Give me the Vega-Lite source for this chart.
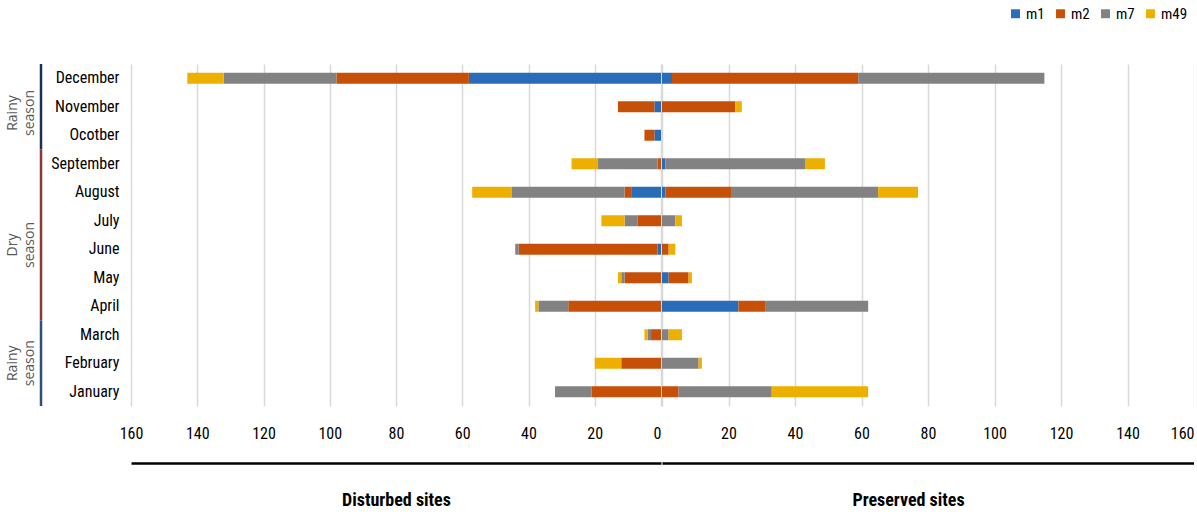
{
  "$schema": "https://vega.github.io/schema/vega-lite/v6.json",
  "padding": {"left": 5, "top": 6, "right": 0, "bottom": 0},
  "background": "white",
  "spacing": 1,
  "config": {
    "view": {"stroke": null},
    "font": "Roboto Condensed, Roboto",
    "axis": {"labelFont": "Roboto Condensed, Roboto", "titleFont": "Roboto Condensed, Roboto", "labelColor": "#000000", "titleColor": "#000000"}
  },
  "resolve": {"scale": {"x": "independent", "y": "independent"}},
  "datasets": {
    "bars": [
      {"month": "December", "site": "Disturbed", "series": "m1", "value": 58},
      {"month": "December", "site": "Disturbed", "series": "m2", "value": 40},
      {"month": "December", "site": "Disturbed", "series": "m7", "value": 34},
      {"month": "December", "site": "Disturbed", "series": "m49", "value": 11},
      {"month": "November", "site": "Disturbed", "series": "m1", "value": 2},
      {"month": "November", "site": "Disturbed", "series": "m2", "value": 11},
      {"month": "Ocotber", "site": "Disturbed", "series": "m1", "value": 2},
      {"month": "Ocotber", "site": "Disturbed", "series": "m2", "value": 3},
      {"month": "September", "site": "Disturbed", "series": "m2", "value": 1},
      {"month": "September", "site": "Disturbed", "series": "m7", "value": 18},
      {"month": "September", "site": "Disturbed", "series": "m49", "value": 8},
      {"month": "August", "site": "Disturbed", "series": "m1", "value": 9},
      {"month": "August", "site": "Disturbed", "series": "m2", "value": 2},
      {"month": "August", "site": "Disturbed", "series": "m7", "value": 34},
      {"month": "August", "site": "Disturbed", "series": "m49", "value": 12},
      {"month": "July", "site": "Disturbed", "series": "m2", "value": 7},
      {"month": "July", "site": "Disturbed", "series": "m7", "value": 4},
      {"month": "July", "site": "Disturbed", "series": "m49", "value": 7},
      {"month": "June", "site": "Disturbed", "series": "m1", "value": 1},
      {"month": "June", "site": "Disturbed", "series": "m2", "value": 42},
      {"month": "June", "site": "Disturbed", "series": "m7", "value": 1},
      {"month": "May", "site": "Disturbed", "series": "m2", "value": 11},
      {"month": "May", "site": "Disturbed", "series": "m7", "value": 1},
      {"month": "May", "site": "Disturbed", "series": "m49", "value": 1},
      {"month": "April", "site": "Disturbed", "series": "m2", "value": 28},
      {"month": "April", "site": "Disturbed", "series": "m7", "value": 9},
      {"month": "April", "site": "Disturbed", "series": "m49", "value": 1},
      {"month": "March", "site": "Disturbed", "series": "m2", "value": 3},
      {"month": "March", "site": "Disturbed", "series": "m7", "value": 1},
      {"month": "March", "site": "Disturbed", "series": "m49", "value": 1},
      {"month": "February", "site": "Disturbed", "series": "m2", "value": 12},
      {"month": "February", "site": "Disturbed", "series": "m49", "value": 8},
      {"month": "January", "site": "Disturbed", "series": "m2", "value": 21},
      {"month": "January", "site": "Disturbed", "series": "m7", "value": 11},
      {"month": "December", "site": "Preserved", "series": "m1", "value": 3},
      {"month": "December", "site": "Preserved", "series": "m2", "value": 56},
      {"month": "December", "site": "Preserved", "series": "m7", "value": 56},
      {"month": "November", "site": "Preserved", "series": "m2", "value": 22},
      {"month": "November", "site": "Preserved", "series": "m49", "value": 2},
      {"month": "September", "site": "Preserved", "series": "m1", "value": 1},
      {"month": "September", "site": "Preserved", "series": "m7", "value": 42},
      {"month": "September", "site": "Preserved", "series": "m49", "value": 6},
      {"month": "August", "site": "Preserved", "series": "m1", "value": 1},
      {"month": "August", "site": "Preserved", "series": "m2", "value": 20},
      {"month": "August", "site": "Preserved", "series": "m7", "value": 44},
      {"month": "August", "site": "Preserved", "series": "m49", "value": 12},
      {"month": "July", "site": "Preserved", "series": "m7", "value": 4},
      {"month": "July", "site": "Preserved", "series": "m49", "value": 2},
      {"month": "June", "site": "Preserved", "series": "m2", "value": 2},
      {"month": "June", "site": "Preserved", "series": "m49", "value": 2},
      {"month": "May", "site": "Preserved", "series": "m1", "value": 2},
      {"month": "May", "site": "Preserved", "series": "m2", "value": 6},
      {"month": "May", "site": "Preserved", "series": "m49", "value": 1},
      {"month": "April", "site": "Preserved", "series": "m1", "value": 23},
      {"month": "April", "site": "Preserved", "series": "m2", "value": 8},
      {"month": "April", "site": "Preserved", "series": "m7", "value": 31},
      {"month": "March", "site": "Preserved", "series": "m7", "value": 2},
      {"month": "March", "site": "Preserved", "series": "m49", "value": 4},
      {"month": "February", "site": "Preserved", "series": "m7", "value": 11},
      {"month": "February", "site": "Preserved", "series": "m49", "value": 1},
      {"month": "January", "site": "Preserved", "series": "m2", "value": 5},
      {"month": "January", "site": "Preserved", "series": "m7", "value": 28},
      {"month": "January", "site": "Preserved", "series": "m49", "value": 29}
    ],
    "seasons": [
      {"segment": "rainy1", "label": ["Rainy", "season"], "from": 0, "to": 3, "mid": 1.72},
      {"segment": "dry", "label": ["Dry", "season"], "from": 3, "to": 9, "mid": 6.35},
      {"segment": "rainy2", "label": ["Rainy", "season"], "from": 9, "to": 12, "mid": 10.5}
    ]
  },
  "hconcat": [
    {
      "width": 33,
      "height": 342,
      "data": {"name": "seasons"},
      "layer": [
        {
          "mark": {"type": "rule", "strokeWidth": 2.5},
          "encoding": {
            "x": {"datum": 1, "type": "quantitative", "scale": {"domain": [0, 1]}, "axis": null},
            "y": {"field": "from", "type": "quantitative", "scale": {"domain": [0, 12], "reverse": true, "nice": false}, "axis": null},
            "y2": {"field": "to"},
            "stroke": {"field": "segment", "type": "nominal", "scale": {"domain": ["rainy1", "dry", "rainy2"], "range": ["#1c2f55", "#8e3535", "#2c4f7c"]}, "legend": null}
          }
        },
        {
          "mark": {"type": "text", "angle": 270, "align": "center", "baseline": "middle", "fontSize": 14, "lineHeight": 17, "font": "Open Sans", "color": "#595959"},
          "encoding": {
            "x": {"datum": 0.15, "type": "quantitative", "scale": {"domain": [0, 1]}, "axis": null},
            "y": {"field": "mid", "type": "quantitative", "scale": {"domain": [0, 12], "reverse": true, "nice": false}, "axis": null},
            "text": {"field": "label"}
          }
        }
      ]
    },
    {
      "width": 530,
      "height": 342,
      "data": {"name": "bars"},
      "transform": [
        {"filter": "datum.site === 'Disturbed'"},
        {"calculate": "indexof(['m1','m2','m7','m49'], datum.series)", "as": "stackOrder"}
      ],
      "mark": {"type": "bar", "size": 11},
      "encoding": {
        "y": {
          "field": "month", "type": "nominal",
          "scale": {"domain": ["December", "November", "Ocotber", "September", "August", "July", "June", "May", "April", "March", "February", "January"]},
          "axis": {"title": null, "domain": false, "ticks": false, "labelFontSize": 16, "labelPadding": 12, "minExtent": 87, "maxExtent": 87}
        },
        "x": {
          "field": "value", "type": "quantitative", "stack": "zero",
          "scale": {"domain": [0, 160], "reverse": true, "nice": false},
          "axis": {"title": "Disturbed sites", "titleFontSize": 18, "titleFontWeight": "bold", "titlePadding": 28,
                   "values": [0, 20, 40, 60, 80, 100, 120, 140, 160], "grid": true, "gridColor": "#d9d9d9", "gridWidth": 1.5,
                   "labelFlush": false,
                   "labelAlign": {"condition": {"test": "datum.value === 0", "value": "right"}, "value": "center"},
                   "ticks": false, "tickSize": 0, "offset": 57, "labelPadding": -38, "labelFontSize": 16,
                   "domainColor": "#000000", "domainWidth": 2.5}
        },
        "color": {
          "field": "series", "type": "nominal", "sort": ["m1", "m2", "m7", "m49"],
          "scale": {"domain": ["m1", "m2", "m7", "m49"], "range": ["#2b6cb8", "#c65008", "#828282", "#edb000"]},
          "legend": {"title": null, "orient": "none", "direction": "horizontal", "legendX": 1000, "legendY": -58,
                     "symbolType": "square", "symbolSize": 80, "symbolStrokeWidth": 0, "labelFontSize": 15, "labelFont": "Roboto Condensed, Roboto",
                     "columnPadding": 8, "labelOffset": 3}
        },
        "order": {"field": "stackOrder", "type": "quantitative", "sort": "ascending"}
      }
    },
    {
      "width": 532,
      "height": 342,
      "data": {"name": "bars"},
      "transform": [
        {"filter": "datum.site === 'Preserved'"},
        {"calculate": "indexof(['m1','m2','m7','m49'], datum.series)", "as": "stackOrder"}
      ],
      "mark": {"type": "bar", "size": 11},
      "encoding": {
        "y": {
          "field": "month", "type": "nominal",
          "scale": {"domain": ["December", "November", "Ocotber", "September", "August", "July", "June", "May", "April", "March", "February", "January"]},
          "axis": null
        },
        "x": {
          "field": "value", "type": "quantitative", "stack": "zero",
          "scale": {"domain": [0, 160], "nice": false},
          "axis": {"title": "Preserved sites", "titleFontSize": 18, "titleFontWeight": "bold", "titlePadding": 28, "titleX": 246,
                   "values": [0, 20, 40, 60, 80, 100, 120, 140, 160], "labelExpr": "datum.value === 0 ? '' : datum.label",
                   "grid": true, "gridColor": "#d9d9d9", "gridWidth": 1.5, "labelFlush": false,
                   "labelAlign": {"condition": {"test": "datum.value === 160", "value": "right"}, "value": "center"},
                   "ticks": false, "tickSize": 0, "offset": 57, "labelPadding": -38, "labelFontSize": 16,
                   "domainColor": "#000000", "domainWidth": 2.5}
        },
        "color": {
          "field": "series", "type": "nominal", "sort": ["m1", "m2", "m7", "m49"],
          "scale": {"domain": ["m1", "m2", "m7", "m49"], "range": ["#2b6cb8", "#c65008", "#828282", "#edb000"]},
          "legend": {"title": null, "orient": "none", "direction": "horizontal", "legendX": 1000, "legendY": -58,
                     "symbolType": "square", "symbolSize": 80, "symbolStrokeWidth": 0, "labelFontSize": 15, "labelFont": "Roboto Condensed, Roboto",
                     "columnPadding": 8, "labelOffset": 3}
        },
        "order": {"field": "stackOrder", "type": "quantitative", "sort": "ascending"}
      }
    }
  ]
}
